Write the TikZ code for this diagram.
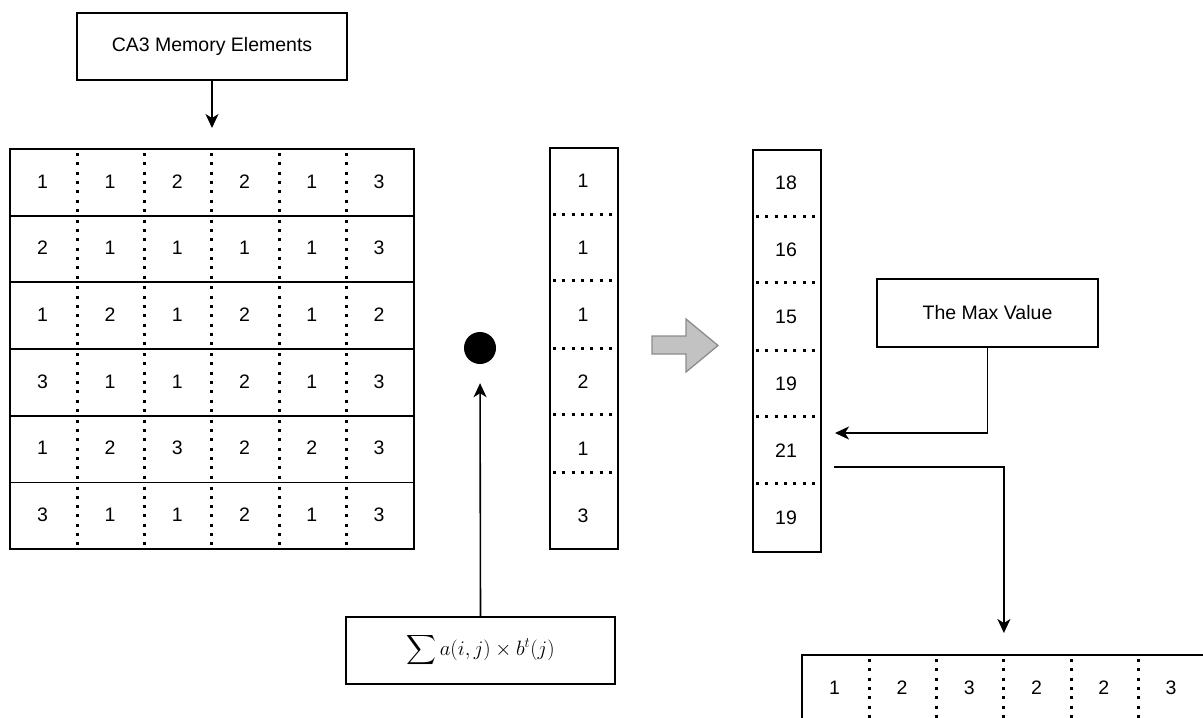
\documentclass[tikz,border=0pt]{standalone}
\usepackage{fontspec}
\setmainfont{Liberation Sans}
\usepackage{amsmath}
\usetikzlibrary{arrows.meta}
\usetikzlibrary{positioning}

\tikzset{
  every node/.style={font=\fontsize{19.5}{23}\selectfont},
  box/.style={draw, line width=1.8pt, inner sep=0pt},
  num/.style={inner sep=0pt},
  dotsep/.style={line width=3pt, dash pattern=on 3pt off 6.3pt},
  link/.style={line width=1.6pt, -{Stealth[length=14pt,width=13pt,inset=4pt]}},
  bigarrow/.style={fill=gray!48, draw=gray!90, line width=1.3pt, line join=miter},
}

\begin{document}
\begin{tikzpicture}[x=1pt,y=-1pt]
  \useasboundingbox (0,0) rectangle (1203,718);
  \clip (0,0) rectangle (1203,718);

  % memory matrix, one box per row
  \foreach \vals [count=\r] in {{1,1,2,2,1,3},{2,1,1,1,1,3},{1,2,1,2,1,2},
                                {3,1,1,2,1,3},{1,2,3,2,2,3},{3,1,1,2,1,3}} {
    \node [box, anchor=north west, minimum width=404pt, minimum height=66.7pt]
      (row\r) at (9,{148+(\r-1)*66.7}) {};
    \foreach \v [count=\c] in \vals
      \node [num] (a\r\c) at ({9+(\c-0.5)*67.3},{148+(\r-0.5)*66.7}) {\v};
    \foreach \c in {1,...,5}
      \draw [dotsep] ({10+\c*67.3},{148+(\r-1)*66.7+5}) -- ++(0,62);
  }

  \node [box, minimum width=270pt, minimum height=67pt] (mem) at (212,46.5)
    {CA3 Memory Elements};
  \draw [link, shorten >=20pt] (mem.south) -- (mem.south |- row1.north);

  % dot product
  \node [circle, fill=black, minimum size=32pt, inner sep=0pt] (dot) at (480,348) {};
  \node [box, minimum width=269pt, minimum height=67pt] (sumbox) at (480.5,650.5)
    {\fontsize{20}{24}\selectfont$\displaystyle\sum a(i,j)\times b^{t}(j)$};
  \draw [link, shorten >=19pt] (sumbox.north) -- (dot.south);

  % input vector
  \node [box, anchor=north west, minimum width=68pt, minimum height=401pt] (bvec) at (549,147) {};
  \foreach \v [count=\i] in {1,1,1,2,1,3}
    \node [num] (b\i) at (583,{181+(\i-1)*67}) {\v};
  \foreach \y in {214,280,348,414,472}
    \draw [dotsep] (553,\y) -- (613,\y);

  \draw [bigarrow] (652,336) -- (686,336) -- (686,319) -- (718,345.5)
    -- (686,372) -- (686,354) -- (652,354) -- cycle;

  % result vector
  \node [box, anchor=north west, minimum width=68pt, minimum height=402pt] (cvec) at (752,149) {};
  \foreach \v [count=\i] in {18,16,15,19,21,19}
    \node [num] (c\i) at (786,{183+(\i-1)*67}) {\v};
  \foreach \y in {216,282,350,416,483}
    \draw [dotsep] (756,\y) -- (816,\y);

  \node [box, minimum width=221pt, minimum height=68pt] (maxv) at (987.5,313) {The Max Value};
  \coordinate (pick) at (835,433);
  \draw [link] (maxv.south) |- (pick);

  % selected row
  \node [box, anchor=north west, minimum width=404pt, minimum height=67pt] (out) at (801,654) {};
  \foreach \v [count=\c] in {1,2,3,2,2,3}
    \node [num] (o\c) at ({801+(\c-0.5)*67.3},688) {\v};
  \foreach \c in {1,...,5}
    \draw [dotsep] ({802+\c*67.3},659) -- ++(0,62);
  \coordinate (from) at (834,467);
  \draw [link, shorten >=21pt] (from) -| (out.north);
\end{tikzpicture}
\end{document}
